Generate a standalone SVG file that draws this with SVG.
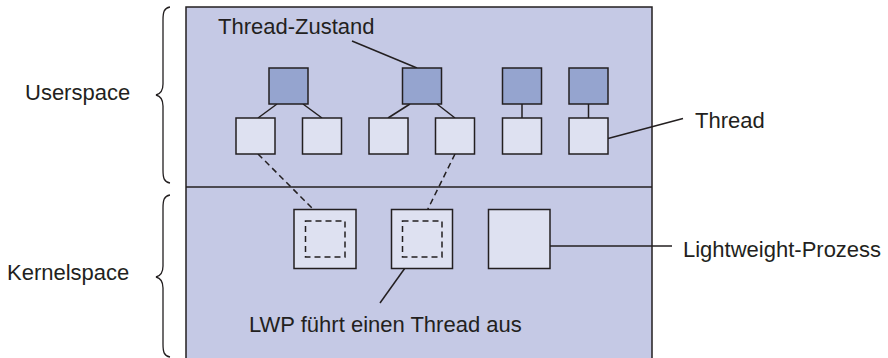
<svg xmlns="http://www.w3.org/2000/svg" width="888" height="358" viewBox="0 0 888 358">
  <style>
    text { font-family: "Liberation Sans", Arial, sans-serif; font-size: 22px; fill: #231f20; }
    .space { fill: #c5c9e5; stroke: #231f20; stroke-width: 1.5; }
    .state { fill: #95a4cf; stroke: #231f20; stroke-width: 1.5; }
    .thread { fill: #dee1f1; stroke: #231f20; stroke-width: 1.5; }
    .lwp { fill: #dee1f1; stroke: #231f20; stroke-width: 1.5; }
    .slot { fill: none; stroke: #231f20; stroke-width: 1.5; stroke-dasharray: 6 4; }
    .link { fill: none; stroke: #231f20; stroke-width: 1.5; }
    .dash { fill: none; stroke: #231f20; stroke-width: 1.5; stroke-dasharray: 6 4; }
    .brace { fill: none; stroke: #231f20; stroke-width: 1.3; }
  </style>

  <!-- address space frame: user part above, kernel part below -->
  <g id="spaces">
    <rect class="space" x="186" y="7" width="466" height="360"/>
    <line class="link" x1="186" y1="187" x2="652" y2="187"/>
  </g>

  <!-- side braces with region labels -->
  <g id="userspace">
    <path class="brace" d="M170,7 C164,8 163,12 163,20 L163,84 C163,91 160,94 156,95 C160,96 163,99 163,106 L163,170 C163,178 164,182 170,183"/>
    <text x="25" y="100">Userspace</text>
  </g>
  <g id="kernelspace">
    <path class="brace" d="M170,195 C164,196 163,200 163,208 L163,266 C163,273 160,276 156,277 C160,278 163,281 163,288 L163,344 C163,352 164,356 170,357"/>
    <text x="7" y="280">Kernelspace</text>
  </g>

  <!-- connectors -->
  <g id="connectors">
    <!-- thread state to threads -->
    <line class="link" x1="277" y1="104" x2="258" y2="118"/>
    <line class="link" x1="303" y1="104" x2="322" y2="118"/>
    <line class="link" x1="410" y1="104" x2="388" y2="118"/>
    <line class="link" x1="437" y1="104" x2="455" y2="118"/>
    <line class="link" x1="522" y1="104" x2="522" y2="118"/>
    <line class="link" x1="588.5" y1="104" x2="588.5" y2="118"/>
    <!-- threads mapped onto LWPs -->
    <line class="dash" x1="258" y1="154" x2="325" y2="221"/>
    <line class="dash" x1="455" y1="154" x2="422" y2="221"/>
    <!-- label leaders -->
    <line class="link" x1="352" y1="41" x2="417" y2="68"/>
    <line class="link" x1="608" y1="138.5" x2="683" y2="118.5"/>
    <line class="link" x1="550" y1="246" x2="672" y2="246"/>
    <line class="link" x1="405" y1="268" x2="380" y2="303"/>
  </g>

  <!-- thread states -->
  <g id="state-1"><rect class="state" x="269" y="68" width="39" height="36"/></g>
  <g id="state-2"><rect class="state" x="402.5" y="68" width="39" height="36"/></g>
  <g id="state-3"><rect class="state" x="502.5" y="68" width="39" height="36"/></g>
  <g id="state-4"><rect class="state" x="569" y="68" width="39" height="36"/></g>

  <!-- threads -->
  <g id="thread-1"><rect class="thread" x="236" y="118" width="39" height="36"/></g>
  <g id="thread-2"><rect class="thread" x="302.5" y="118" width="39" height="36"/></g>
  <g id="thread-3"><rect class="thread" x="369" y="118" width="39" height="36"/></g>
  <g id="thread-4"><rect class="thread" x="435.5" y="118" width="39" height="36"/></g>
  <g id="thread-5"><rect class="thread" x="502.5" y="118" width="39" height="36"/></g>
  <g id="thread-6"><rect class="thread" x="569" y="118" width="39" height="36"/></g>

  <!-- lightweight processes -->
  <g id="lwp-1">
    <rect class="lwp" x="294" y="209.5" width="62" height="59"/>
    <rect class="slot" x="305.5" y="221" width="39.5" height="36"/>
  </g>
  <g id="lwp-2">
    <rect class="lwp" x="391.5" y="209.5" width="61" height="59"/>
    <rect class="slot" x="402.5" y="221" width="39.5" height="36"/>
  </g>
  <g id="lwp-3">
    <rect class="lwp" x="488.5" y="209.5" width="61.5" height="59"/>
  </g>

  <!-- annotations -->
  <g id="labels">
    <text x="218" y="34">Thread-Zustand</text>
    <text x="695" y="128">Thread</text>
    <text x="683" y="257">Lightweight-Prozess</text>
    <text x="249" y="332">LWP führt einen Thread aus</text>
  </g>
</svg>
